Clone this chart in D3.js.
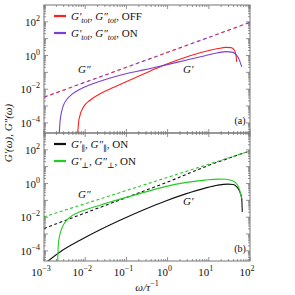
<!DOCTYPE html>
<html><head><meta charset="utf-8">
<script src="https://cdn.jsdelivr.net/npm/d3@7"></script>
<style>
html,body{margin:0;padding:0;background:#fff;}
svg text{font-family:"Liberation Serif","DejaVu Serif",serif;fill:#111;}
</style></head>
<body><svg id="c" width="295" height="295"></svg>
<script>
// ---------- data ----------
const xTicks = [1e-3, 1e-2, 1e-1, 1e0, 1e1, 1e2];
const xTickExp = ["-3", "-2", "-1", "0", "1", "2"];
const yTicks = [1e2, 1e0, 1e-2, 1e-4];
const yTickExp = ["2", "0", "-2", "-4"];

// panel (a)
const offGpW  = [6.58e-3, 6.91e-3, 7.48e-3, 8.99e-3, 0.0131, 0.0229, 0.0529, 0.145, 0.374, 0.865, 2.64, 8.09, 16.7, 26.2, 34.6, 40.9, 45.2, 47.6];
const offGp   = [2.4e-5, 1.09e-4, 2.83e-4, 8.49e-4, 2.21e-3, 5.40e-3, 0.0141, 0.0422, 0.118, 0.287, 0.771, 1.75, 2.58, 3.03, 2.95, 2.24, 1.21, 0.422];
const onGpW   = [2.35e-3, 2.445e-3, 2.66e-3, 2.97e-3, 3.62e-3, 4.78e-3, 7.48e-3, 0.0131, 0.0229, 0.0699, 0.283, 0.865, 2.64, 8.09, 16.7, 26.2, 36.6, 45.7, 54.1, 62.9];
const onGp    = [2.4e-5, 1.09e-4, 4.28e-4, 1.12e-3, 2.54e-3, 5.04e-3, 0.0100, 0.0185, 0.0299, 0.0681, 0.145, 0.268, 0.511, 0.973, 1.45, 1.71, 1.59, 1.13, 0.611, 0.212];
const totGppW = [1e-3, 1e-2, 1e-1, 1e0, 1e1, 1e2];
const offGpp  = [3.34e-3, 0.0259, 0.200, 1.55, 12.0, 93.3];
const onGpp   = [3.34e-3, 0.0259, 0.200, 1.55, 12.0, 93.3];

// panel (b)
const parGpW  = [1.163e-3, 2.445e-3, 7.48e-3, 0.0229, 0.0699, 0.283, 0.865, 2.64, 8.09, 16.7, 29.2, 39.3, 48.4, 55.6, 62.9, 65.0];
const parGp   = [2.18e-5, 8.61e-5, 4.28e-4, 1.80e-3, 6.62e-3, 0.0299, 0.0896, 0.234, 0.532, 0.803, 0.921, 0.883, 0.611, 0.353, 0.130, 0.0207];
const perGpW  = [2.15e-3, 2.22e-3, 2.38e-3, 2.69e-3, 3.56e-3, 4.78e-3, 7.48e-3, 0.0229, 0.0699, 0.283, 0.865, 2.64, 8.09, 16.7, 26.2, 36.6, 45.7, 54.1, 62.9];
const perGp   = [2.18e-5, 2.15e-4, 7.40e-4, 2.12e-3, 6.62e-3, 0.0123, 0.0207, 0.0518, 0.118, 0.308, 0.653, 1.13, 1.59, 1.83, 1.80, 1.49, 1.06, 0.532, 0.130];
const parGppW = [1e-3, 1e-2, 1e-1, 1e0, 1e1, 1e2];
const parGpp  = [2.14e-3, 0.0178, 0.148, 1.23, 12.0, 85.1];
const perGppW = [1e-3, 1e-2, 1e-1, 1e0, 1e1, 1e2];
const perGpp  = [0.0105, 0.0634, 0.384, 2.32, 14.1, 85.1];

// ---------- layout ----------
const svg = d3.select("#c");
const L = 44, R = 250;
const panels = [{top: 5, bottom: 133, tag: "(a)"}, {top: 133, bottom: 261, tag: "(b)"}];
const x = d3.scaleLog().domain([1e-3, 1e2]).range([L, R]);
const frameCol = "#777";

function zip(w, g) { return w.map((d, i) => [d, g[i]]); }

panels.forEach((p, pi) => {
  const y = d3.scaleLog().domain([2.5e-5, 1e3]).range([p.bottom, p.top]);
  const g = svg.append("g");
  const cid = "clip" + pi;
  svg.append("clipPath").attr("id", cid).append("rect")
    .attr("x", L).attr("y", p.top).attr("width", R - L).attr("height", p.bottom - p.top);

  // y ticks (inward)
  const yMaj = d3.range(-4, 3).map(e => Math.pow(10, e));
  const yMin = [];
  for (let e = -5; e < 3; e++) for (let k = 2; k < 10; k++) { const v = k * Math.pow(10, e); if (v > 2.5e-5 && v < 1e3) yMin.push(v); }
  const tk = g.append("g").attr("stroke", frameCol).attr("stroke-width", 0.8);
  yMaj.forEach(v => { [L, R].forEach((xx, j) => tk.append("line").attr("x1", xx).attr("x2", xx + (j ? -4 : 4)).attr("y1", y(v)).attr("y2", y(v))); });
  yMin.forEach(v => { [L, R].forEach((xx, j) => tk.append("line").attr("x1", xx).attr("x2", xx + (j ? -2 : 2)).attr("y1", y(v)).attr("y2", y(v))); });
  // x ticks
  const xMin = [];
  for (let e = -3; e < 2; e++) for (let k = 2; k < 10; k++) xMin.push(k * Math.pow(10, e));
  xTicks.forEach(v => { [p.top, p.bottom].forEach((yy, j) => tk.append("line").attr("x1", x(v)).attr("x2", x(v)).attr("y1", yy).attr("y2", yy + (j ? -4 : 4))); });
  xMin.forEach(v => { [p.top, p.bottom].forEach((yy, j) => tk.append("line").attr("x1", x(v)).attr("x2", x(v)).attr("y1", yy).attr("y2", yy + (j ? -2 : 2))); });

  // y labels
  yTicks.forEach((v, i) => {
    const t = g.append("text").attr("x", L - 4).attr("y", y(v) + 4).attr("text-anchor", "end").attr("font-size", 11);
    t.append("tspan").text("10");
    t.append("tspan").attr("dy", -5).attr("font-size", 8).text(yTickExp[i].replace("-", "\u2212"));
  });

  const cl = g.append("g").attr("clip-path", `url(#${cid})`);
  const line = d3.line().x(d => x(d[0])).y(d => y(d[1])).curve(d3.curveMonotoneX);
  function draw(w, v, col, dash, off) {
    const pth = cl.append("path").attr("d", line(zip(w, v))).attr("fill", "none")
      .attr("stroke", col).attr("stroke-width", 1.1);
    if (dash) pth.attr("stroke-dasharray", dash).attr("stroke-dashoffset", off || 0);
  }
  if (pi === 0) {
    draw(totGppW, offGpp, "#ff2020", "2.5,4", 0);
    draw(totGppW, onGpp, "#7a3fd6", "2.5,4", -1.5);
    draw(offGpW, offGp, "#ff2020");
    draw(onGpW, onGp, "#7a3fd6");
  } else {
    draw(parGppW, parGpp, "#111", "3,2.5", 0);
    draw(perGppW, perGpp, "#22cc22", "3,2.5", 0);
    draw(parGpW, parGp, "#111");
    draw(perGpW, perGp, "#22cc22");
  }

  // frame
  g.append("rect").attr("x", L).attr("y", p.top).attr("width", R - L).attr("height", p.bottom - p.top)
    .attr("fill", "none").attr("stroke", frameCol).attr("stroke-width", 1);

  g.append("text").attr("x", 240).attr("y", p.bottom - 9).attr("text-anchor", "middle").attr("font-size", 10).text(p.tag);
});

// legends
function legendEntry(yy, col, sub, tail) {
  svg.append("line").attr("x1", 54).attr("x2", 66).attr("y1", yy).attr("y2", yy).attr("stroke", col).attr("stroke-width", 2.2);
  const t = svg.append("text").attr("x", 71).attr("y", yy + 4).attr("font-size", 11);
  t.append("tspan").attr("font-style", "italic").text("G\u2032");
  t.append("tspan").attr("font-style", "italic").attr("font-size", 8).attr("dy", 2.5).text(sub);
  t.append("tspan").attr("dy", -2.5).text(", ");
  t.append("tspan").attr("font-style", "italic").text("G\u2033");
  t.append("tspan").attr("font-style", "italic").attr("font-size", 8).attr("dy", 2.5).text(sub);
  t.append("tspan").attr("dy", -2.5).text(", " + tail);
}
legendEntry(16, "#ff2020", "tot", "OFF");
legendEntry(33, "#7a3fd6", "tot", "ON");
legendEntry(144, "#111", "\u2225", "ON");
legendEntry(161, "#22cc22", "\u22a5", "ON");

// curve annotations
function ann(xx, yy, s) {
  svg.append("text").attr("x", xx).attr("y", yy).attr("font-size", 11).attr("font-style", "italic").text(s);
}
ann(78, 73, "G\u2033");
ann(183, 73, "G\u2032");
ann(78, 198, "G\u2033");
ann(183, 205, "G\u2032");

// x tick labels
xTicks.forEach((v, i) => {
  const t = svg.append("text").attr("x", x(v) - 3).attr("y", 276).attr("text-anchor", "middle").attr("font-size", 11);
  t.append("tspan").text("10");
  t.append("tspan").attr("dy", -5).attr("font-size", 8).text(xTickExp[i].replace("-", "\u2212"));
});
// axis titles
const xl = svg.append("text").attr("x", 147).attr("y", 291).attr("text-anchor", "middle").attr("font-size", 11);
xl.append("tspan").attr("font-style", "italic").text("\u03c9/\u03c4");
xl.append("tspan").attr("dy", -5).attr("font-size", 8).text("\u22121");
const yl = svg.append("text").attr("transform", "translate(12,133) rotate(-90)").attr("text-anchor", "middle").attr("font-size", 11);
yl.append("tspan").attr("font-style", "italic").text("G\u2032(\u03c9), G\u2033(\u03c9)");
</script></body></html>
